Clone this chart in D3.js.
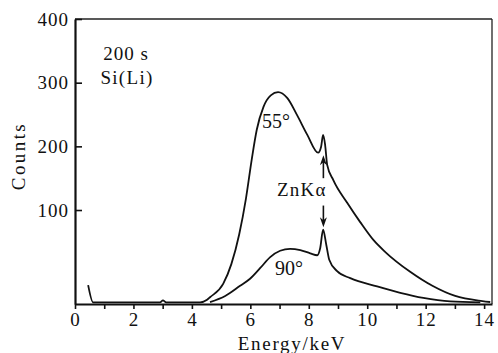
<!DOCTYPE html>
<html>
<head>
<meta charset="utf-8">
<script src="https://cdn.jsdelivr.net/npm/d3@7"></script>
<style>
  body { margin: 0; background: #fff; }
  text { font-family: "Liberation Serif", "Times New Roman", serif; fill: #111; }
  .curve { fill: none; stroke: #111; stroke-width: 1.8; }
  .axis path, .axis line { stroke: #111; }
</style>
</head>
<body>
<div id="graph"></div>
<script>
// spectrum at 55 degrees (keV, counts)
var energy55 = [0.45, 0.62, 2.91, 3.01, 3.12, 4.28, 4.52, 4.62, 5.07, 5.35, 5.62, 5.85, 6.05, 6.22, 6.45, 6.70, 6.95,
  7.26, 7.60, 7.95, 8.32, 8.42, 8.49, 8.56, 8.63, 8.84, 9.32, 9.76, 10.21, 10.62, 11.47, 12.23, 13.01, 13.94, 14.21];
var counts55 = [-18, -45, -45, -42, -45, -45, -41, -37, -16, 15, 62, 118, 180, 226, 262, 280, 285,
  276, 249, 218, 190, 199, 218, 202, 171, 147, 111, 81, 53, 34, 3, -19, -35, -43, -44.5];

// spectrum at 90 degrees
var energy90 = [4.62, 5.14, 5.65, 5.99, 6.34, 6.68, 7.02, 7.36, 7.71, 8.05, 8.29, 8.39, 8.49, 8.60, 8.70,
  8.97, 9.42, 10.34, 11.13, 11.92, 12.84, 13.87];
var counts90 = [-44.5, -35, -19, -8, 9, 26, 36, 39, 37, 32, 29, 40, 69, 45, 22,
  4, -7, -20, -30, -38, -43.5, -45];

var xTicks = [0, 1, 2, 3, 4, 5, 6, 7, 8, 9, 10, 11, 12, 13, 14];
var yTicks = [100, 200, 300, 400];

var width = 498, height = 353;
var svg = d3.select("#graph").append("svg").attr("width", width).attr("height", height);

var x = d3.scaleLinear().domain([0, 14.27]).range([75, 492]);
var y = d3.scaleLinear().domain([-47.6, 400]).range([304, 19]);

var line = d3.line()
  .x(function (d) { return x(d[0]); })
  .y(function (d) { return y(d[1]); })
  .curve(d3.curveMonotoneX);

svg.append("path").attr("class", "curve")
  .attr("d", line(d3.zip(energy55, counts55)));
svg.append("path").attr("class", "curve")
  .attr("d", line(d3.zip(energy90, counts90)));

// frame top and right
svg.append("line").attr("x1", x(0)).attr("x2", x(14.27)).attr("y1", y(400)).attr("y2", y(400))
  .attr("stroke", "#222").attr("stroke-width", 1.6);
svg.append("line").attr("x1", x(14.27)).attr("x2", x(14.27)).attr("y1", y(400)).attr("y2", y(-47.6))
  .attr("stroke", "#222").attr("stroke-width", 1.3);

var xAxis = svg.append("g").attr("class", "axis")
  .attr("transform", "translate(0," + y(-47.6) + ")")
  .call(d3.axisBottom(x).tickValues(xTicks).tickSize(5).tickSizeOuter(0).tickPadding(4)
    .tickFormat(function (d) { return d % 2 ? "" : d; }));
xAxis.select(".domain").attr("stroke-width", 2.2);
xAxis.selectAll("line").attr("stroke-width", 1.6);
xAxis.selectAll("text").attr("font-size", 19).style("letter-spacing", "1px")
  .attr("font-family", null).attr("fill", null);

var yAxis = svg.append("g").attr("class", "axis")
  .attr("transform", "translate(" + x(0) + ",0)")
  .call(d3.axisLeft(y).tickValues(yTicks).tickSizeInner(-7).tickSizeOuter(0).tickPadding(6));
yAxis.select(".domain").attr("stroke-width", 2.2);
yAxis.selectAll("line").attr("stroke-width", 1.6);
yAxis.selectAll("text").attr("font-size", 19).style("letter-spacing", "1px")
  .attr("font-family", null).attr("fill", null);

// axis titles
svg.append("text").attr("x", 292).attr("y", 350).attr("text-anchor", "middle")
  .attr("font-size", 19).style("letter-spacing", "1.7px").text("Energy/keV");
svg.append("text").attr("transform", "translate(25,156) rotate(-90)").attr("text-anchor", "middle")
  .attr("font-size", 19).style("letter-spacing", "2.4px").text("Counts");

// annotations
svg.append("text").attr("x", 126).attr("y", 60).attr("text-anchor", "middle")
  .attr("font-size", 19).style("letter-spacing", "1px").text("200 s");
svg.append("text").attr("x", 127).attr("y", 84).attr("text-anchor", "middle")
  .attr("font-size", 19).style("letter-spacing", "1.3px").text("Si(Li)");
svg.append("text").attr("x", 262).attr("y", 128).attr("font-size", 20).text("55°");
svg.append("text").attr("x", 275).attr("y", 275).attr("font-size", 20).text("90°");
svg.append("text").attr("x", 277).attr("y", 196).attr("font-size", 19).style("letter-spacing", "1.2px").text("ZnKα");

function arrow(e, from, to) {
  var x0 = x(e), y0 = y(from), y1 = y(to);
  var dir = y1 < y0 ? 1 : -1;
  svg.append("line").attr("x1", x0).attr("x2", x0).attr("y1", y0).attr("y2", y1 + dir * 6)
    .attr("stroke", "#111").attr("stroke-width", 1.6);
  svg.append("path")
    .attr("d", "M" + x0 + "," + y1 + "L" + (x0 - 3.5) + "," + (y1 + dir * 10) +
      "L" + x0 + "," + (y1 + dir * 7) + "L" + (x0 + 3.5) + "," + (y1 + dir * 10) + "Z")
    .attr("fill", "#111");
}
arrow(8.5, 150, 186);
arrow(8.5, 107, 73);
</script>
</body>
</html>
